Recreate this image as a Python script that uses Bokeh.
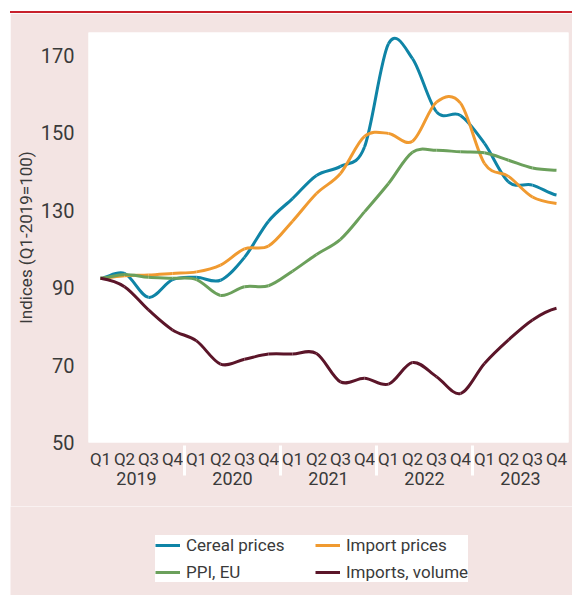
from bokeh.plotting import figure
from bokeh.models import (FactorRange, Range1d, FixedTicker, Legend, LegendItem,
                          ColumnDataSource, Div, Spacer)
from bokeh.layouts import column, row
from bokeh.embed import file_html
from bokeh.resources import INLINE

# ---------------- data ----------------
years = ["2019", "2020", "2021", "2022", "2023"]
quarters = ["Q1", "Q2", "Q3", "Q4"]

cereal_prices = [100.9, 102.4, 95.0, 100.5, 101.2, 100.3, 107.4, 118.6, 125.6, 132.8,
                 135.6, 141.6, 173.6, 169.0, 152.5, 151.4, 142.7, 130.8, 129.8, 126.7]
import_prices = [100.9, 101.7, 101.9, 102.4, 102.9, 105.0, 110.0, 110.9, 118.6, 127.2,
                 133.4, 144.9, 145.8, 143.4, 155.5, 155.2, 136.5, 132.5, 126.1, 124.1]
ppi_eu = [100.9, 102.1, 101.2, 100.9, 100.5, 95.6, 98.3, 98.6, 103.1, 108.3,
          113.0, 121.5, 130.3, 140.0, 140.6, 140.1, 139.8, 137.5, 135.1, 134.4]
imports_volume = [100.9, 98.3, 91.1, 84.9, 81.5, 74.3, 75.8, 77.4, 77.4, 77.6,
                  68.8, 69.9, 68.1, 74.8, 70.4, 65.2, 74.5, 81.8, 88.0, 91.6]

series_names = ["Cereal prices", "Import prices", "PPI, EU", "Imports, volume"]
series_values = [cereal_prices, import_prices, ppi_eu, imports_volume]
series_colors = ["#0f84a6", "#f09a30", "#6ba05b", "#5b1529"]

y_ticks = [50, 74, 98, 122, 146, 170]
y_tick_labels = ["50", "70", "90", "130", "150", "170"]

# ---------------- styling ----------------
PINK = "#f3e4e3"
RED = "#c8202c"
TEXT = "#3a3a3a"
FONT = "Roboto"

factors = [(y, q) for y in years for q in quarters]

# ---------------- main chart ----------------
p = figure(
    x_range=FactorRange(*factors, range_padding=0, group_padding=0,
                        subgroup_padding=0, factor_padding=0),
    y_range=Range1d(50, 177.1),
    width=562, height=493,
    min_border_left=78, min_border_right=4, min_border_top=19, min_border_bottom=64,
    output_backend="svg", toolbar_location=None,
)
p.border_fill_color = PINK
p.background_fill_color = "white"
p.outline_line_color = None
p.grid.grid_line_color = None

# y axis
p.yaxis.ticker = FixedTicker(ticks=y_ticks)
p.yaxis.major_label_overrides = {t: lab for t, lab in zip(y_ticks, y_tick_labels)}
p.yaxis.axis_line_color = None
p.yaxis.major_tick_line_color = None
p.yaxis.minor_tick_line_color = None
p.yaxis.major_label_standoff = 8
p.yaxis.major_label_text_font = FONT
p.yaxis.major_label_text_font_size = "20px"
p.yaxis.major_label_text_color = TEXT
p.yaxis.axis_label = "Indices (Q1-2019=100)"
p.yaxis.axis_label_text_font = FONT
p.yaxis.axis_label_text_font_size = "17px"
p.yaxis.axis_label_text_font_style = "normal"
p.yaxis.axis_label_text_color = TEXT
p.yaxis.axis_label_standoff = 2

# x axis
p.xaxis.axis_line_color = None
p.xaxis.major_tick_line_color = None
p.xaxis.minor_tick_line_color = None
p.xaxis.major_label_standoff = 0
p.xaxis.major_label_text_font = FONT
p.xaxis.major_label_text_font_size = "17px"
p.xaxis.major_label_text_color = TEXT
p.xaxis.group_text_font = FONT
p.xaxis.group_text_font_size = "18px"
p.xaxis.group_text_font_style = "normal"
p.xaxis.group_text_color = TEXT
p.xaxis.separator_line_color = "white"
p.xaxis.separator_line_width = 3

# smoothed lines (Bezier segments through the quarterly points)
for name, vals, color in zip(series_names, series_values, series_colors):
    n = len(vals)
    xs = [i + 0.5 for i in range(n)]
    d = dict(x0=[], y0=[], x1=[], y1=[], cx0=[], cy0=[], cx1=[], cy1=[])
    for i in range(n - 1):
        prev = vals[i - 1] if i > 0 else vals[i]
        nxt = vals[i + 2] if i + 2 < n else vals[i + 1]
        d["x0"].append(xs[i]); d["y0"].append(vals[i])
        d["x1"].append(xs[i + 1]); d["y1"].append(vals[i + 1])
        d["cx0"].append(xs[i] + 1 / 3); d["cy0"].append(vals[i] + (vals[i + 1] - prev) / 6)
        d["cx1"].append(xs[i + 1] - 1 / 3); d["cy1"].append(vals[i + 1] - (nxt - vals[i]) / 6)
    p.bezier(x0="x0", y0="y0", x1="x1", y1="y1", cx0="cx0", cy0="cy0",
             cx1="cx1", cy1="cy1", source=ColumnDataSource(d),
             line_color=color, line_width=3)

# ---------------- legend strip (separate figure) ----------------
p2 = figure(width=562, height=89, x_range=Range1d(0, 1), y_range=Range1d(0, 1),
            x_axis_location=None, y_axis_location=None,
            min_border_left=0, min_border_right=0, min_border_top=0, min_border_bottom=0,
            output_backend="svg", toolbar_location=None)
p2.border_fill_color = PINK
p2.background_fill_color = PINK
p2.outline_line_color = None
p2.grid.grid_line_color = None

items = []
for name, vals, color in zip(series_names, series_values, series_colors):
    lr = p2.line(x=list(range(len(vals))), y=vals, line_color=color, line_width=3,
                 visible=False)
    items.append(LegendItem(label=name, renderers=[lr]))

legend = Legend(items=items, orientation="horizontal", ncols=2, location=(145, 13),
                background_fill_color="white", background_fill_alpha=1,
                border_line_color=None, label_text_font=FONT,
                label_text_font_size="17px", label_text_color=TEXT,
                glyph_width=25, glyph_height=18, label_height=18, label_standoff=6,
                label_width=122, padding=17, spacing=7, margin=0,
                inactive_fill_alpha=0)
p2.add_layout(legend, "center")

red_bar = Div(text="", width=562, height=2, margin=(0, 0, 0, 10),
              styles={"background-color": RED})
layout = column(Spacer(height=11), red_bar,
                row(Spacer(width=10), p),
                row(Spacer(width=10), p2))

open("out.html", "w").write(file_html(layout, INLINE))
